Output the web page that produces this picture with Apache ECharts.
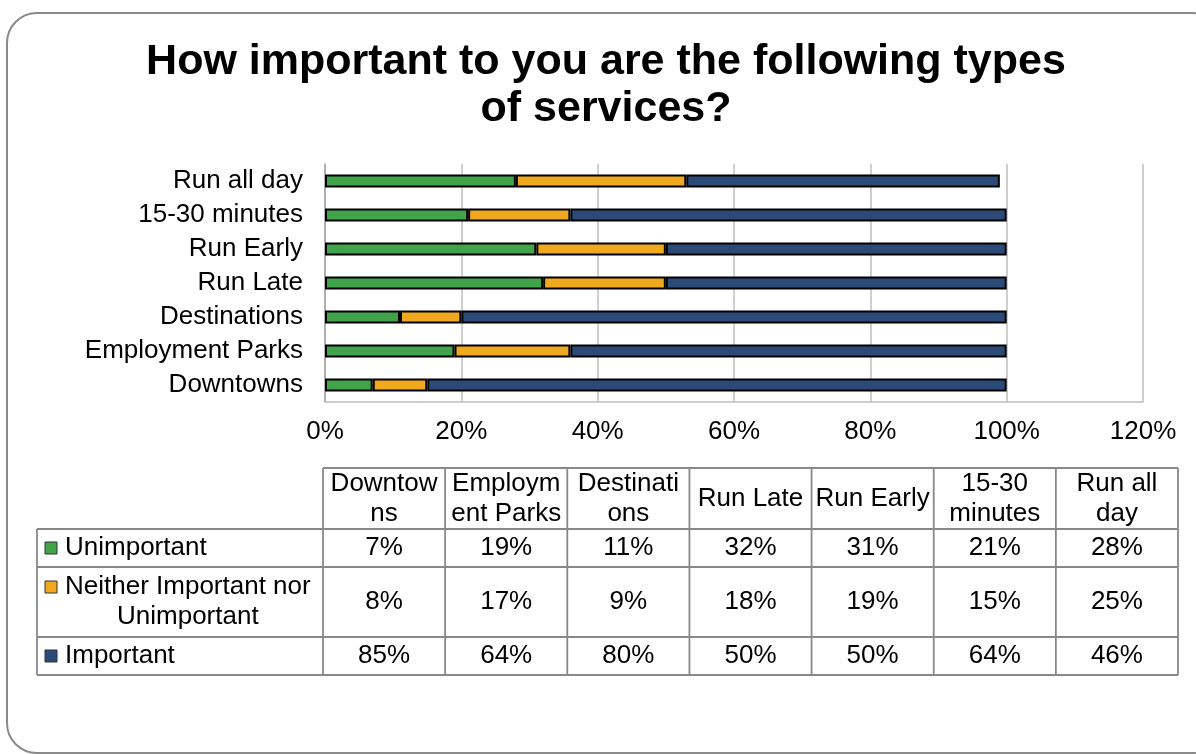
<!DOCTYPE html>
<html>
<head>
<meta charset="utf-8">
<script src="https://cdn.jsdelivr.net/npm/echarts@6/dist/echarts.min.js"></script>
<style>
  html, body { margin: 0; padding: 0; background: #fff; }
  #chart { width: 1196px; height: 754px; }
</style>
</head>
<body>
<div id="chart"></div>
<script>
// Service types, bottom-to-top on the bar chart and left-to-right in the table
const categories = ['Downtowns', 'Employment Parks', 'Destinations', 'Run Late', 'Run Early', '15-30 minutes', 'Run all day'];
// Table column headings as wrapped in their cells
const headerLabels = ['Downtow\nns', 'Employm\nent Parks', 'Destinati\nons', 'Run Late', 'Run Early', '15-30\nminutes', 'Run all\nday'];
// Response groups (series) and their row labels in the table
const seriesNames = ['Unimportant', 'Neither Important nor Unimportant', 'Important'];
const rowLabels = ['Unimportant', 'Neither Important nor\nUnimportant', 'Important'];
// Percent of respondents per service
const unimportant = [7, 19, 11, 32, 31, 21, 28];
const neither = [8, 17, 9, 18, 19, 15, 25];
const important = [85, 64, 80, 50, 50, 64, 46];
// Value axis range (percent)
const xMin = 0, xMax = 120, xStep = 20;

const colors = ['#41A34A', '#F0A91F', '#2B4A78'];
const seriesValues = [unimportant, neither, important];
const FONT = '"Liberation Sans", Arial, sans-serif';
const FS = 26;

const chart = echarts.init(document.getElementById('chart'));

// --- data table under the chart ---
const tbl = { left: 37, dataLeft: 323, right: 1178, headTop: 468, rows: [529, 567, 637, 675] };
const colW = (tbl.right - tbl.dataLeft) / categories.length;
const lineStyle = { stroke: '#888888', lineWidth: 1.8 };
const measure = (() => {
  const c = document.createElement('canvas').getContext('2d');
  c.font = FS + 'px ' + FONT;
  return (s) => c.measureText(s).width;
})();

const tableEls = [];
const hline = (y, x1, x2) => tableEls.push({ type: 'line', shape: { x1, y1: y, x2, y2: y }, style: lineStyle, silent: true });
const vline = (x, y1, y2) => tableEls.push({ type: 'line', shape: { x1: x, y1, x2: x, y2 }, style: lineStyle, silent: true });

hline(tbl.headTop, tbl.dataLeft, tbl.right);
tbl.rows.forEach(y => hline(y, tbl.left, tbl.right));
vline(tbl.left, tbl.rows[0], tbl.rows[tbl.rows.length - 1]);
for (let k = 0; k <= categories.length; k++) {
  vline(tbl.dataLeft + k * colW, tbl.headTop, tbl.rows[tbl.rows.length - 1]);
}

// column headings
headerLabels.forEach((h, i) => {
  tableEls.push({
    type: 'text', silent: true,
    style: {
      text: h, x: tbl.dataLeft + colW * (i + 0.5), y: (tbl.headTop + tbl.rows[0]) / 2,
      align: 'center', verticalAlign: 'middle',
      fontSize: FS, fontFamily: FONT, fill: '#000', lineHeight: 30
    }
  });
});

// row labels with legend keys, and the values
rowLabels.forEach((lab, r) => {
  const top = tbl.rows[r], bot = tbl.rows[r + 1];
  const mid = (top + bot) / 2;
  const lines = lab.split('\n');
  const lh = 30;
  const firstLineY = mid - (lines.length - 1) * lh / 2;
  const blockW = Math.max(...lines.map(measure));
  tableEls.push({
    type: 'rect', silent: true,
    shape: { x: 45, y: firstLineY - 6, width: 12, height: 12 },
    style: { fill: colors[r], stroke: '#333', lineWidth: 1 }
  });
  tableEls.push({
    type: 'text', silent: true,
    style: {
      text: lab, x: 65 + blockW / 2, y: mid,
      align: 'center', verticalAlign: 'middle',
      fontSize: FS, fontFamily: FONT, fill: '#000', lineHeight: lh
    }
  });
  seriesValues[r].forEach((v, i) => {
    tableEls.push({
      type: 'text', silent: true,
      style: {
        text: v + '%', x: tbl.dataLeft + colW * (i + 0.5), y: mid,
        align: 'center', verticalAlign: 'middle',
        fontSize: FS, fontFamily: FONT, fill: '#000'
      }
    });
  });
});

const option = {
  backgroundColor: '#fff',
  animation: false,
  grid: { left: 325, right: 53, top: 164, bottom: 352, outerBoundsMode: 'none' },
  xAxis: {
    type: 'value', min: xMin, max: xMax, interval: xStep,
    axisLine: { show: true, lineStyle: { color: '#bfbfbf', width: 1.5 } },
    axisTick: { show: false },
    splitLine: { show: true, lineStyle: { color: '#bfbfbf', width: 1.5 } },
    axisLabel: { formatter: '{value}%', fontSize: FS, fontFamily: FONT, color: '#000', margin: 17 }
  },
  yAxis: {
    type: 'category', data: categories,
    axisLine: { show: true, lineStyle: { color: '#a6a6a6', width: 1.5 } },
    axisTick: { show: false },
    axisLabel: { fontSize: FS, fontFamily: FONT, color: '#000', margin: 22 }
  },
  series: seriesNames.map((name, r) => ({
    name, type: 'bar', stack: 'total', barWidth: 13,
    data: seriesValues[r],
    itemStyle: { color: colors[r], borderColor: '#000', borderWidth: 2 }
  })),
  graphic: [
    {
      type: 'rect', silent: true, z: -10,
      shape: { x: 7, y: 13, width: 1215, height: 740, r: 30 },
      style: { fill: 'none', stroke: '#8a8a8a', lineWidth: 2 }
    },
    {
      // chart title
      type: 'text', silent: true,
      style: {
        text: 'How important to you are the following types\nof services?',
        x: 606, y: 39, align: 'center', verticalAlign: 'top',
        fontSize: 43, fontWeight: 'bold', fontFamily: FONT, fill: '#000', lineHeight: 47
      }
    },
    { type: 'group', children: tableEls }
  ]
};
chart.setOption(option);
</script>
</body>
</html>
